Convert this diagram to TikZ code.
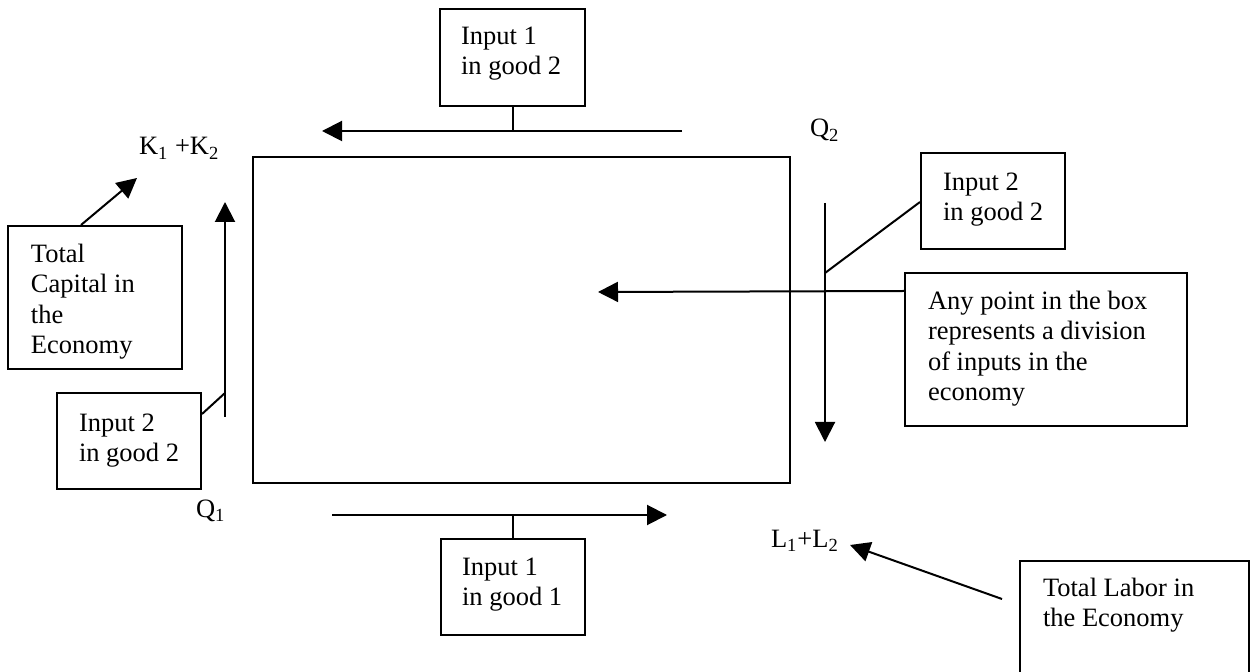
\documentclass[tikz,border=0pt]{standalone}
\usepackage{fontspec}
\setmainfont{Liberation Serif}
\usetikzlibrary{arrows.meta,fit,calc}
\begin{document}
\begin{tikzpicture}[x=0.5pt,y=-0.5pt,line width=1pt,
  box/.style={draw,inner sep=0pt,line width=1pt},
  txt/.style={anchor=north west,inner sep=0pt,align=left,font=\fontsize{13.25}{15.2}\selectfont},
  lbl/.style={anchor=base west,inner sep=0pt,font=\fontsize{13.25}{15.2}\selectfont},
  arr/.style={-{Triangle[length=10pt,width=10pt]},line width=1pt}]
\clip (0,0) rectangle (1251,672);
\fill[white] (0,0) rectangle (1251,672);

% main box
\node[box,fit={(253,157) (790,483)}] (main) {};

% top box
\node[box,fit={(440,9) (585,106)}] (topbox) {};
\node[txt] (toptxt) at (460,26) {Input 1\\in good 2};
\coordinate (ta1) at (682,131);
\coordinate (ta2) at (322,131);
\draw[arr] (ta1) -- (ta2);
\draw (topbox.south) -- (topbox.south |- ta1);

% bottom box
\node[box,fit={(441,539) (585,635)}] (botbox) {};
\node[txt] (bottxt) at (461,557) {Input 1\\in good 1};
\coordinate (ba1) at (332,515);
\coordinate (ba2) at (667,515);
\draw[arr] (ba1) -- (ba2);
\draw (botbox.north) -- (botbox.north |- ba1);

% left side
\node[box,fit={(8,226) (182,369)}] (capbox) {};
\node[txt] (captxt) at (30,243) {Total\\Capital in\\the\\Economy};
\coordinate (ktip) at (137,178);
\draw[arr] ($(capbox.north west)+(74,0)$) -- (ktip);
\node[lbl] (klab) at (138,155) {K\textsubscript{1} +K\textsubscript{2}};

\node[box,fit={(57,393) (201,489)}] (lbox) {};
\node[txt] (ltxt) at (78,413) {Input 2\\in good 2};
\coordinate (la1) at (225,417);
\coordinate (la2) at (225,202);
\coordinate (lj) at (225,393);
\draw[arr] (la1) -- (la2);
\draw ($(lbox.north east)+(0,22)$) -- (lj);
\node[lbl] (q1) at (195,517) {Q\textsubscript{1}};

% right side
\node[lbl] (q2) at (809,137) {Q\textsubscript{2}};
\node[box,fit={(921,153) (1065,249)}] (rbox) {};
\node[txt] (rtxt) at (942,172) {Input 2\\in good 2};
\coordinate (ra1) at (825,203);
\coordinate (ra2) at (825,442);
\coordinate (rj) at (825,273);
\draw[arr] (ra1) -- (ra2);
\draw ($(rbox.north west)+(0,50)$) -- (rj);

\node[box,fit={(905,273) (1187,426)}] (anybox) {};
\node[txt] (anytxt) at (927,290) {Any point in the box\\represents a division\\of inputs in the\\economy};
\coordinate (ptip) at (598,292);
\draw[arr] ($(anybox.north west)+(0,19)$) -- (ptip);

% bottom right
\node[lbl] (llab) at (770,547) {L\textsubscript{1}+L\textsubscript{2}};
\node[box,fit={(1020,561) (1249,700)}] (labbox) {};
\node[txt] (labtxt) at (1042,577) {Total Labor in\\the Economy};
\coordinate (lstart) at (1002,599);
\coordinate (ltip) at (850,545);
\draw[arr] (lstart) -- (ltip);
\end{tikzpicture}
\end{document}
